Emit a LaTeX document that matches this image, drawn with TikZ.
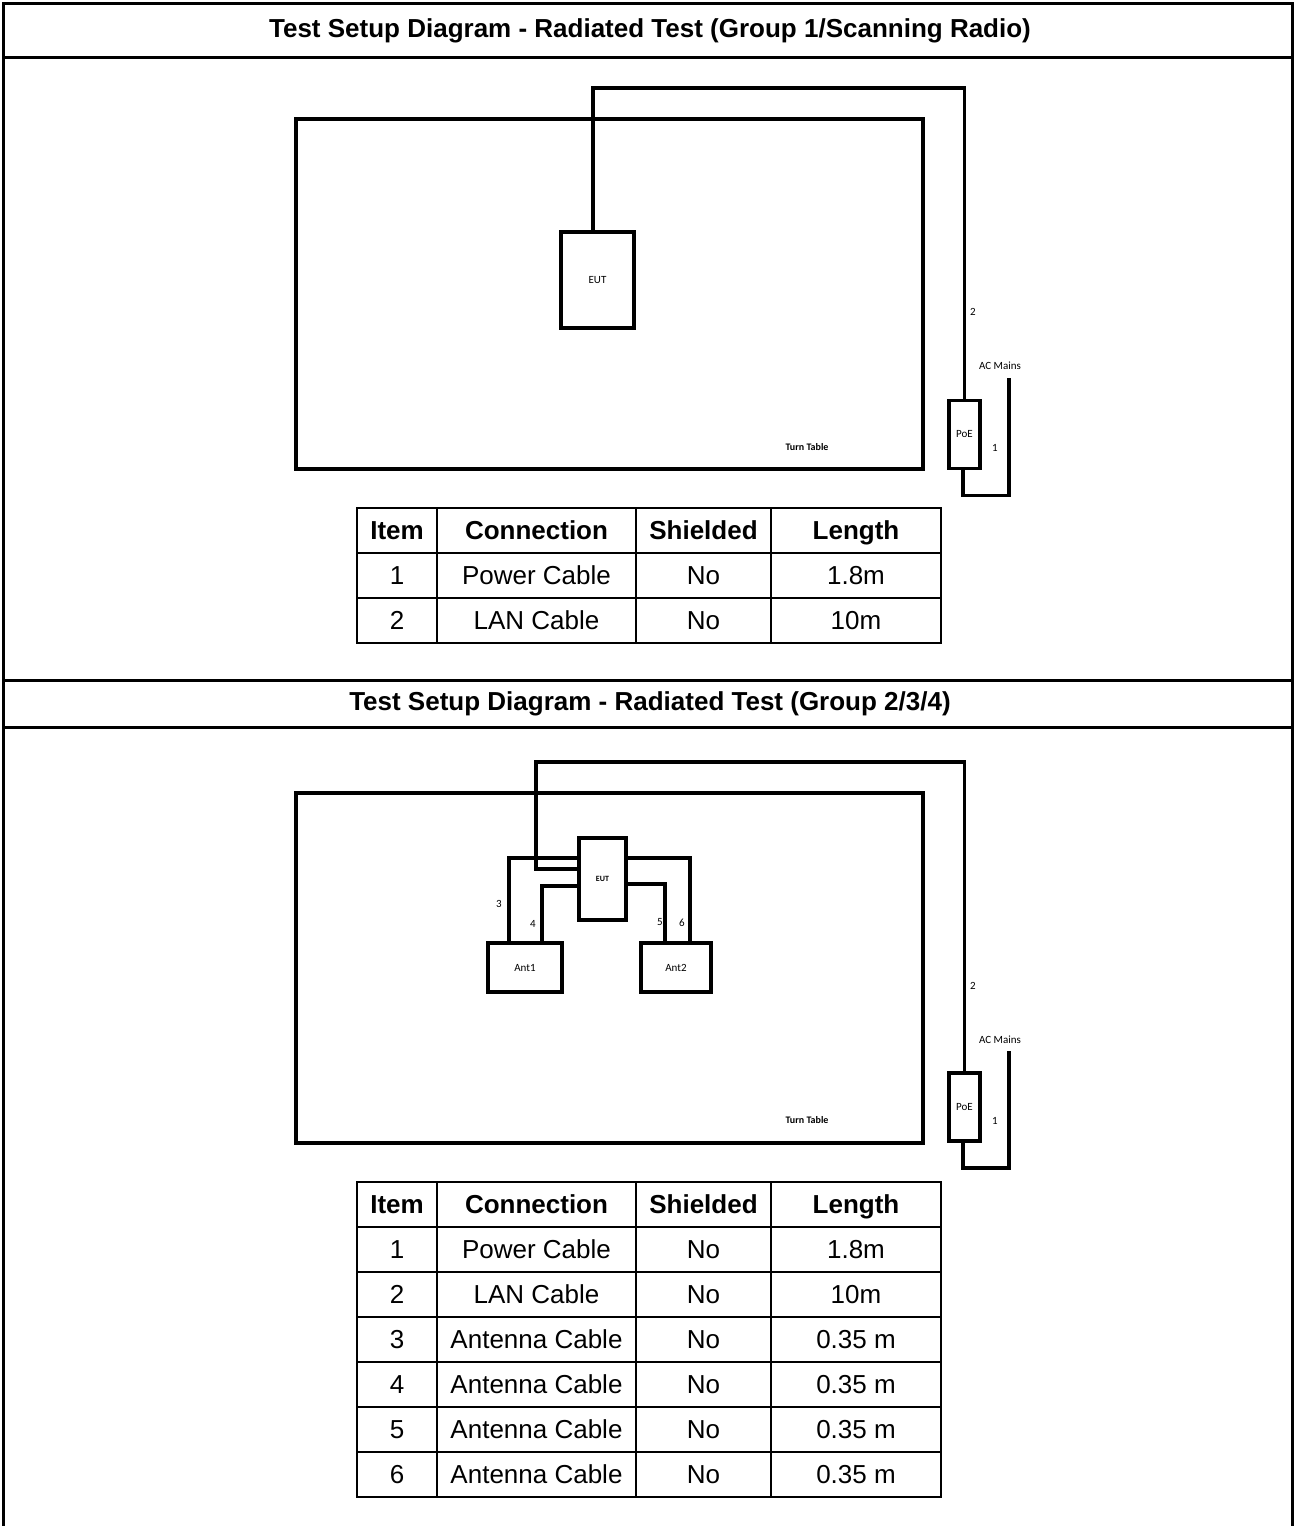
\documentclass[tikz,border=0pt]{standalone}
\usepackage{fontspec}
\setmainfont{Liberation Sans}
\newfontfamily\calfont{Carlito}
\usetikzlibrary{calc}

\begin{document}
\begin{tikzpicture}[x=1pt,y=-1pt]
  \tikzstyle{box}=[draw,line width=3.6pt,inner sep=0pt,outer sep=0pt,font=\fontsize{11}{13}\calfont]
  \tikzstyle{cable}=[draw,line width=3.6pt]
  \tikzstyle{lab}=[inner sep=0pt,font=\fontsize{11}{13}\calfont]
  \tikzstyle{cell}=[draw,line width=2.2pt,inner sep=0pt,outer sep=0pt,minimum height=45pt,
    text height=18.5pt,text depth=0pt,font=\fontsize{26}{30}\selectfont]
  \tikzstyle{head}=[font=\fontsize{26}{30}\selectfont\bfseries]
  \def\trow#1#2#3#4#5#6{%
    \node [cell,minimum width=80pt] (#1i) at (397,#2) {#3};
    \node [cell,minimum width=199pt] (#1c) at (536.5,#2) {#4};
    \node [cell,minimum width=135pt] (#1s) at (703.5,#2) {#5};
    \node [cell,minimum width=170pt] (#1l) at (856,#2) {#6};}

  \useasboundingbox (0,0) rectangle (1295,1526);
  \draw [line width=3pt] (3,1526) -- (3,3) -- (1292,3) -- (1292,1526);
  \draw [line width=3pt] (3,57) -- (1292,57) (3,680) -- (1292,680) (3,727) -- (1292,727);
  \node [head] (title1) at (650,31) {Test Setup Diagram - Radiated Test (Group 1/Scanning Radio)};
  \node [head] (title2) at (650,704) {Test Setup Diagram - Radiated Test (Group 2/3/4)};

  % group 1
  \node [box,minimum width=627,minimum height=350] (table1) at (609.5,294) {};
  \node [lab,font=\fontsize{10}{12}\calfont\bfseries] (turn1) at (807,447) {Turn Table};
  \node [box,minimum width=73,minimum height=96] (eut1) at (597.5,280) {EUT};
  \node [box,minimum width=31,minimum height=68] (poe1) at (964.5,434.5) {PoE};
  \coordinate (mains1) at (1009,378);
  \path [cable] ([xshift=-4.5pt]eut1.north) -- ++(0,-144) -| (poe1.north);
  \path [cable] ([xshift=-1.5pt]poe1.south) -- ++(0,27) -| (mains1);
  \node [lab] (n2a) at (973,312) {2};
  \node [lab] (n1a) at (995,448) {1};
  \node [lab] (ac1) at (1000,366) {AC Mains};

  \trow{ah}{530.5}{\textbf{Item}}{\textbf{Connection}}{\textbf{Shielded}}{\textbf{Length}}
  \trow{a1}{575.5}{1}{Power Cable}{No}{1.8m}
  \trow{a2}{620.5}{2}{LAN Cable}{No}{10m}

  % group 2/3/4
  \node [box,minimum width=627,minimum height=350] (table2) at (609.5,968) {};
  \node [lab,font=\fontsize{10}{12}\calfont\bfseries] (turn2) at (807,1120) {Turn Table};
  \node [box,minimum width=47,minimum height=82,font=\fontsize{8}{10}\calfont\bfseries] (eut2) at (602.5,879) {EUT};
  \node [box,minimum width=74,minimum height=49] (ant1) at (525,967.5) {Ant1};
  \node [box,minimum width=70,minimum height=49] (ant2) at (676,967.5) {Ant2};
  \node [box,minimum width=31,minimum height=68] (poe2) at (964.5,1107) {PoE};
  \coordinate (mains2) at (1009,1051);
  \path [cable] ($(eut2.west)+(0,-10)$) -- ++(-43,0) -- ++(0,-107) -| (poe2.north);
  \path [cable] ([xshift=-1.5pt]poe2.south) -- ++(0,27) -| (mains2);
  \path [cable] ($(eut2.west)+(0,-21)$) -| ($(ant1.north)+(-16,0)$);
  \path [cable] ($(eut2.west)+(0,7)$) -| ($(ant1.north)+(17,0)$);
  \path [cable] ($(eut2.east)+(0,5)$) -| ($(ant2.north)+(-11,0)$);
  \path [cable] ($(eut2.east)+(0,-21)$) -| ($(ant2.north)+(14,0)$);
  \node [lab] (n3) at (499,904) {3};
  \node [lab] (n4) at (533,924) {4};
  \node [lab] (n5) at (660,922) {5};
  \node [lab] (n6) at (682,923) {6};
  \node [lab] (n2b) at (973,986) {2};
  \node [lab] (n1b) at (995,1121) {1};
  \node [lab] (ac2) at (1000,1040) {AC Mains};

  \trow{bh}{1204.5}{\textbf{Item}}{\textbf{Connection}}{\textbf{Shielded}}{\textbf{Length}}
  \trow{b1}{1249.5}{1}{Power Cable}{No}{1.8m}
  \trow{b2}{1294.5}{2}{LAN Cable}{No}{10m}
  \trow{b3}{1339.5}{3}{Antenna Cable}{No}{0.35 m}
  \trow{b4}{1384.5}{4}{Antenna Cable}{No}{0.35 m}
  \trow{b5}{1429.5}{5}{Antenna Cable}{No}{0.35 m}
  \trow{b6}{1474.5}{6}{Antenna Cable}{No}{0.35 m}
\end{tikzpicture}
\end{document}
